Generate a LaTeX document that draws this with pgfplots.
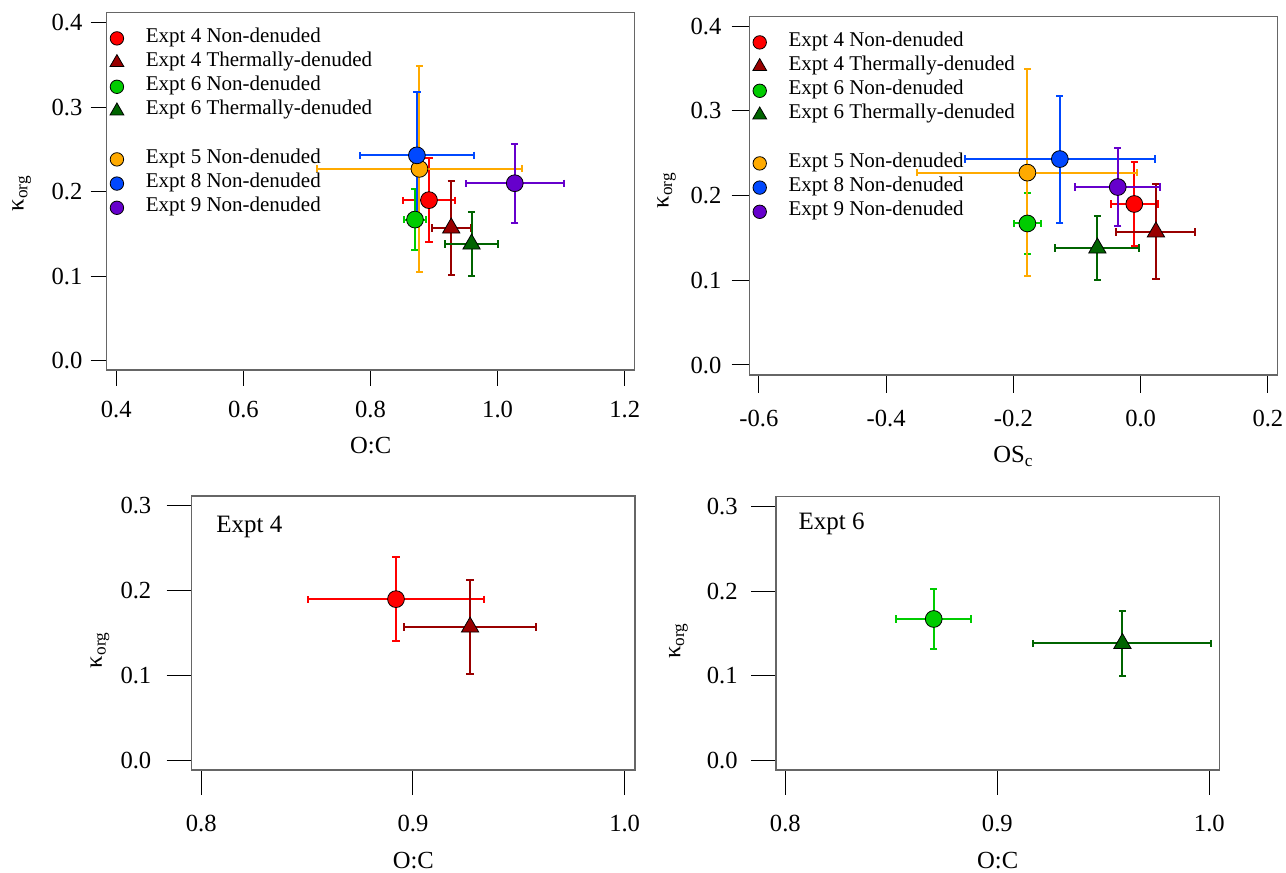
\documentclass[border=0pt]{standalone}
\usepackage{fontspec}
\setmainfont{Liberation Serif}
\usepackage{pgfplots}
\pgfplotsset{compat=1.18}

\definecolor{cEfourN}{RGB}{255,0,0}
\definecolor{cEfourT}{RGB}{153,0,0}
\definecolor{cEsixN}{RGB}{0,204,0}
\definecolor{cEsixT}{RGB}{0,100,0}
\definecolor{cEfive}{RGB}{255,170,0}
\definecolor{cEeight}{RGB}{0,72,255}
\definecolor{cEnine}{RGB}{102,0,204}

\pgfplotsset{
  panel/.style={
    scale only axis,
    axis line style={black!60, line width=0.6pt},
    tick align=outside, tick pos=left,
    major tick style={black, line width=0.5pt},
    minor tick num=0,
    tick label style={font=\fontsize{12.3}{14}\selectfont, inner sep=0pt},
    label style={font=\fontsize{12.3}{14}\selectfont},
    /pgf/number format/assume math mode=true,
    /pgf/number format/fixed,
    /pgf/number format/fixed zerofill,
    /pgf/number format/precision=1,
    legend cell align=left,
    legend style={at={(0,1)}, anchor=north west, draw=none, fill=none,
      inner sep=0pt, xshift=1.45pt, yshift=-6.6pt, column sep=11pt,
      font=\fontsize{10.5}{12}\selectfont,
      nodes={inner sep=0pt, text height=8pt, text depth=4.1pt}},
    legend image code/.code={%
      \draw[##1,/tikz/every mark/.append style={scale=0.8}] plot coordinates {(0pt,0pt)};},
  },
  ser/.style n args={3}{
    only marks, mark=#1, mark size=#2, color=#3,
    mark options={fill=#3, draw=black, line width=0.4pt},
    error bars/.cd, x dir=both, x explicit, y dir=both, y explicit,
    error bar style={color=#3, line width=1pt},
    error mark options={rotate=90, color=#3, line width=1pt, mark size=1.8pt},
  },
}

\begin{document}
\begin{tikzpicture}
\useasboundingbox (0,0) rectangle (643pt,436.5pt);

% top left: kappa vs O:C
\begin{axis}[panel,
  at={(53.35pt,251.5pt)}, anchor=south west,
  width=264pt, height=178.65pt,
  xmin=0.3849, xmax=1.2157, ymin=-0.011, ymax=0.4118,
  xtick={0.4,0.6,0.8,1.0,1.2}, ytick={0,0.1,0.2,0.3,0.4},
  major tick length=8pt,
  xticklabel shift=7.3pt, yticklabel shift=4pt,
  xlabel={O:C}, ylabel={κ\textsubscript{org}},
  xlabel style={at={(axis description cs:0.5,-0.21)}, anchor=center},
  ylabel style={at={(axis description cs:-0.161,0.495)}, anchor=center},
]
\addplot[ser={*}{4.2pt}{cEfourN}] table[x error=ex, y error=ey, row sep=\\] {x y ex ey\\ 0.892 0.190 0.0415 0.050\\};
\addlegendentry{Expt 4 Non-denuded}
\addplot[ser={triangle*}{5pt}{cEfourT}] table[x error=ex, y error=ey, row sep=\\] {x y ex ey\\ 0.927 0.157 0.031 0.056\\};
\addlegendentry{Expt 4 Thermally-denuded}
\addplot[ser={*}{4.2pt}{cEsixN}] table[x error=ex, y error=ey, row sep=\\] {x y ex ey\\ 0.870 0.167 0.0177 0.036\\};
\addlegendentry{Expt 6 Non-denuded}
\addplot[ser={triangle*}{5pt}{cEsixT}] table[x error=ex, y error=ey, row sep=\\] {x y ex ey\\ 0.959 0.138 0.042 0.038\\};
\addlegendentry{Expt 6 Thermally-denuded}
\addlegendimage{empty legend}
\addlegendentry{}
\addplot[ser={*}{4.2pt}{cEfive}] table[x error=ex, y error=ey, row sep=\\] {x y ex ey\\ 0.877 0.227 0.161 0.122\\};
\addlegendentry{Expt 5 Non-denuded}
\addplot[ser={*}{4.2pt}{cEeight}] table[x error=ex, y error=ey, row sep=\\] {x y ex ey\\ 0.873 0.243 0.090 0.075\\};
\addlegendentry{Expt 8 Non-denuded}
\addplot[ser={*}{4.2pt}{cEnine}] table[x error=ex, y error=ey, row sep=\\] {x y ex ey\\ 1.027 0.210 0.0775 0.0465\\};
\addlegendentry{Expt 9 Non-denuded}
\end{axis}

% top right: kappa vs OSc
\begin{axis}[panel,
  at={(374.75pt,249pt)}, anchor=south west,
  width=264pt, height=179.15pt,
  xmin=-0.6147, xmax=0.2151, ymin=-0.0118, ymax=0.411,
  xtick={-0.6,-0.4,-0.2,0,0.2}, ytick={0,0.1,0.2,0.3,0.4},
  major tick length=9pt,
  xticklabel shift=8.45pt, yticklabel shift=4.9pt,
  xlabel={OS\textsubscript{c}}, ylabel={κ\textsubscript{org}},
  xlabel style={at={(axis description cs:0.5,-0.228)}, anchor=center},
  ylabel style={at={(axis description cs:-0.157,0.516)}, anchor=center},
]
\addplot[ser={*}{4.2pt}{cEfourN}] table[x error=ex, y error=ey, row sep=\\] {x y ex ey\\ -0.010 0.190 0.037 0.050\\};
\addlegendentry{Expt 4 Non-denuded}
\addplot[ser={triangle*}{5pt}{cEfourT}] table[x error=ex, y error=ey, row sep=\\] {x y ex ey\\ 0.024 0.157 0.062 0.056\\};
\addlegendentry{Expt 4 Thermally-denuded}
\addplot[ser={*}{4.2pt}{cEsixN}] table[x error=ex, y error=ey, row sep=\\] {x y ex ey\\ -0.178 0.167 0.021 0.036\\};
\addlegendentry{Expt 6 Non-denuded}
\addplot[ser={triangle*}{5pt}{cEsixT}] table[x error=ex, y error=ey, row sep=\\] {x y ex ey\\ -0.068 0.138 0.066 0.038\\};
\addlegendentry{Expt 6 Thermally-denuded}
\addlegendimage{empty legend}
\addlegendentry{}
\addplot[ser={*}{4.2pt}{cEfive}] table[x error=ex, y error=ey, row sep=\\] {x y ex ey\\ -0.178 0.227 0.173 0.122\\};
\addlegendentry{Expt 5 Non-denuded}
\addplot[ser={*}{4.2pt}{cEeight}] table[x error=ex, y error=ey, row sep=\\] {x y ex ey\\ -0.127 0.243 0.149 0.075\\};
\addlegendentry{Expt 8 Non-denuded}
\addplot[ser={*}{4.2pt}{cEnine}] table[x error=ex, y error=ey, row sep=\\] {x y ex ey\\ -0.036 0.210 0.067 0.0465\\};
\addlegendentry{Expt 9 Non-denuded}
\end{axis}

% bottom left: Expt 4
\begin{axis}[panel,
  at={(95.85pt,51.5pt)}, anchor=south west,
  width=221.65pt, height=137pt,
  xmin=0.7955, xmax=1.0049, ymin=-0.0118, ymax=0.3118,
  xtick={0.8,0.9,1.0}, ytick={0,0.1,0.2,0.3},
  major tick length=12.5pt,
  xticklabel shift=9.95pt, yticklabel shift=7.5pt,
  xlabel={O:C}, ylabel={κ\textsubscript{org}},
  xlabel style={at={(axis description cs:0.5,-0.33)}, anchor=center},
  ylabel style={at={(axis description cs:-0.207,0.438)}, anchor=center},
]
\addplot[ser={*}{4.2pt}{cEfourN}] table[x error=ex, y error=ey, row sep=\\] {x y ex ey\\ 0.892 0.190 0.0415 0.050\\};
\addplot[ser={triangle*}{5pt}{cEfourT}] table[x error=ex, y error=ey, row sep=\\] {x y ex ey\\ 0.927 0.157 0.031 0.056\\};
\node[anchor=base west, font=\fontsize{12.5}{15}\selectfont] at ([xshift=8.8pt,yshift=-18.3pt]rel axis cs:0,1) {Expt 4};
\end{axis}

% bottom right: Expt 6
\begin{axis}[panel,
  at={(388pt,51.5pt)}, anchor=south west,
  width=221.65pt, height=136.65pt,
  xmin=0.7956, xmax=1.0047, ymin=-0.0118, ymax=0.3118,
  xtick={0.8,0.9,1.0}, ytick={0,0.1,0.2,0.3},
  major tick length=12.5pt,
  xticklabel shift=9.95pt, yticklabel shift=6.5pt,
  xlabel={O:C}, ylabel={κ\textsubscript{org}},
  xlabel style={at={(axis description cs:0.5,-0.33)}, anchor=center},
  ylabel style={at={(axis description cs:-0.22,0.474)}, anchor=center},
]
\addplot[ser={*}{4.2pt}{cEsixN}] table[x error=ex, y error=ey, row sep=\\] {x y ex ey\\ 0.870 0.167 0.0177 0.036\\};
\addplot[ser={triangle*}{5pt}{cEsixT}] table[x error=ex, y error=ey, row sep=\\] {x y ex ey\\ 0.959 0.138 0.042 0.038\\};
\node[anchor=base west, font=\fontsize{12.5}{15}\selectfont] at ([xshift=7.8pt,yshift=-16.3pt]rel axis cs:0,1) {Expt 6};
\end{axis}
\end{tikzpicture}
\end{document}
